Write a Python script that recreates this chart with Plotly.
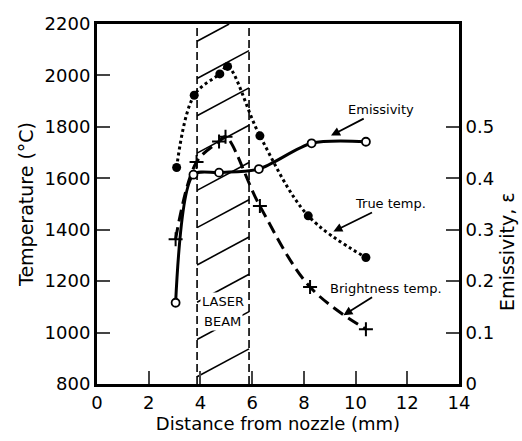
import plotly.graph_objects as go

# ---- data ----
true_x = [3.08, 3.76, 4.75, 5.05, 6.3, 8.17, 10.4]
true_y = [1642, 1923, 2006, 2035, 1765, 1454, 1292]

bright_x = [3.04, 3.85, 4.72, 4.97, 6.3, 8.24, 10.4]
bright_y = [1363, 1663, 1743, 1762, 1492, 1177, 1013]

emis_x = [3.04, 3.73, 4.72, 6.26, 8.3, 10.4]
emis_y = [0.158, 0.407, 0.411, 0.418, 0.468, 0.471]

beam = [3.87, 5.88]           # laser beam boundaries (mm)
x_ticks = [0, 2, 4, 6, 8, 10, 12, 14]
y_ticks = [800, 1000, 1200, 1400, 1600, 1800, 2000, 2200]
y2_ticks = [0, 0.1, 0.2, 0.3, 0.4, 0.5]
y2_labels = ["0", "0.1", "0.2", "0.3", "0.4", "0.5"]

FONT = "DejaVu Sans"
fig = go.Figure()

# hatch lines inside the beam region (generated from beam bounds)
slope = 54.0      # °C per mm
spacing = 145.0   # °C
hx, hy = [], []
c = 2133.0
while c > 800 - slope * (beam[1] - beam[0]):
    x0, y0 = beam[0], c
    x1, y1 = beam[1], c + slope * (beam[1] - beam[0])
    if y1 > 2200:
        x1 = beam[0] + (2200 - c) / slope
        y1 = 2200
    if y0 < 800:
        x0 = beam[0] + (800 - c) / slope
        y0 = 800
    hx += [x0, x1, None]
    hy += [y0, y1, None]
    c -= spacing
fig.add_trace(go.Scatter(x=hx, y=hy, mode="lines", line=dict(color="black", width=1.6),
                         hoverinfo="skip", showlegend=False))

# beam boundaries (dashed verticals)
for b in beam:
    fig.add_trace(go.Scatter(x=[b, b], y=[800, 2200], mode="lines",
                             line=dict(color="black", width=1.6, dash="8px,4px"),
                             showlegend=False, hoverinfo="skip"))

fig.add_trace(go.Scatter(x=true_x, y=true_y, mode="lines+markers",
                         line=dict(color="black", width=3, dash="dot", shape="spline", smoothing=1.0),
                         marker=dict(symbol="circle", size=9, color="black"),
                         showlegend=False))
fig.add_trace(go.Scatter(x=bright_x, y=bright_y, mode="lines+markers",
                         line=dict(color="black", width=3, dash="12px,6px", shape="spline", smoothing=1.0),
                         marker=dict(symbol="cross-thin", size=10, line=dict(color="black", width=2)),
                         showlegend=False))
fig.add_trace(go.Scatter(x=emis_x, y=emis_y, yaxis="y2", mode="lines+markers",
                         line=dict(color="black", width=3, shape="spline", smoothing=0.8),
                         marker=dict(symbol="circle", size=8, color="white", line=dict(color="black", width=1.8)),
                         showlegend=False))

ann_font = dict(family=FONT, size=13, color="black")
arrow = dict(showarrow=True, arrowhead=2, arrowsize=1, arrowwidth=1.8, arrowcolor="black")
annotations = [
    dict(x=9.05, y=1766, text="Emissivity", ax=50, ay=-26, font=ann_font, **arrow),
    dict(x=9.14, y=1393, text="True temp.", ax=57, ay=-28, font=ann_font, **arrow),
    dict(x=9.53, y=1067, text="Brightness temp.", ax=43, ay=-27, font=ann_font, **arrow),
    dict(x=4.88, y=1120, text="LASER", showarrow=False, bgcolor="white", font=dict(family=FONT, size=13)),
    dict(x=4.85, y=1043, text="BEAM", showarrow=False, bgcolor="white", font=dict(family=FONT, size=13)),
    dict(x=1.0, xref="paper", xanchor="center", xshift=48, y=0.367, yref="paper", yanchor="middle",
         text="Emissivity, ε", textangle=-90, showarrow=False, font=dict(family=FONT, size=19)),
]

fig.update_layout(
    width=522, height=441,
    margin=dict(l=97, r=63, t=24, b=49),
    paper_bgcolor="white", plot_bgcolor="white",
    font=dict(family=FONT, size=18, color="black"),
    showlegend=False,
    annotations=annotations,
    xaxis=dict(range=[0, 14], tickvals=x_ticks, ticks="inside", ticklen=13, tickwidth=2,
               showline=True, linewidth=3, linecolor="black", mirror=True, showgrid=False, zeroline=False,
               title=dict(text="Distance from nozzle (mm)", standoff=4, font=dict(size=18))),
    yaxis=dict(range=[800, 2200], tickvals=y_ticks, ticks="inside", ticklen=13, tickwidth=2,
               showline=True, linewidth=3, linecolor="black", showgrid=False, zeroline=False,
               title=dict(text="Temperature (°C)", standoff=6, font=dict(size=19))),
    yaxis2=dict(range=[0, 0.7], overlaying="y", side="right", tickvals=y2_ticks, ticktext=y2_labels,
                ticks="inside", ticklen=13, tickwidth=2, showline=True, linewidth=3, linecolor="black",
                showgrid=False, zeroline=False),
)

fig.write_html("out.html")
